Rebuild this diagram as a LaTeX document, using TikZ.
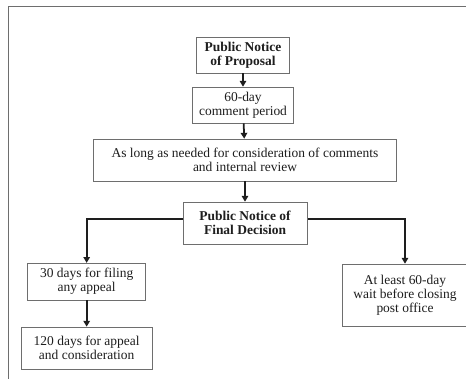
\documentclass[tikz,border=0pt]{standalone}
\usepackage{fontspec}
\setmainfont{Liberation Serif}
\usetikzlibrary{arrows.meta,positioning}
\definecolor{ink}{RGB}{30,30,30}
\definecolor{rule}{RGB}{110,110,110}
\tikzset{
  >={Triangle[length=5pt,width=5.5pt]},
  box/.style={draw=rule,line width=0.5pt,fill=white,align=center,
    inner sep=2pt,minimum width=#1,minimum height=1.08cm,
    font=\fontsize{11.5}{12}\selectfont,text=ink},
  box/.default=3cm,
  head box/.style={box=#1,font=\fontsize{11.5}{12}\selectfont\bfseries},
  flow/.style={->,line width=1.5pt,draw=ink},
  frame/.style={draw=rule,line width=0.6pt},
}
\begin{document}
\begin{tikzpicture}
  \useasboundingbox (0,0) rectangle (13.98,-11.34);
  \clip (0,0) rectangle (13.98,-11.34);
  % outer frame, open at right and bottom
  \draw[frame] (0.255,-11.4) |- (14.1,-0.19);
  % main column
  \node[head box=2.79cm] (notice) at (7.29,-1.65) {Public Notice\\of Proposal};
  \node[box=3.03cm] (comment) at (7.29,-3.15) {60-day\\comment period};
  \node[box=9.09cm,minimum height=1.26cm] (review) at (7.35,-4.80)
    {As long as needed for consideration of comments\\and internal review};
  % bar behind the decision box
  \coordinate (split) at (7.35,-6.57);
  \node[box=3.54cm,minimum height=1.11cm] (filing) at (2.6,-8.45) {30 days for filing\\any appeal};
  \node[box=3.93cm,minimum height=1.26cm] (appeal) at (2.6,-10.44) {120 days for appeal\\and consideration};
  \node[box=3.78cm,minimum height=1.86cm] (wait) at (12.15,-8.85)
    {At least 60-day\\wait before closing\\post office};
  \draw[flow] (split) -| (filing.north);
  \draw[flow] (split) -| (wait.north);
  \node[head box=3.72cm,minimum height=1.26cm] (decision) at (7.35,-6.69) {Public Notice of\\Final Decision};
  % arrows down the column
  \draw[flow] (notice) -- (comment);
  \draw[flow] (comment) -- (review);
  \draw[flow] (review) -- (decision);
  \draw[flow] (filing) -- (appeal);
\end{tikzpicture}
\end{document}
